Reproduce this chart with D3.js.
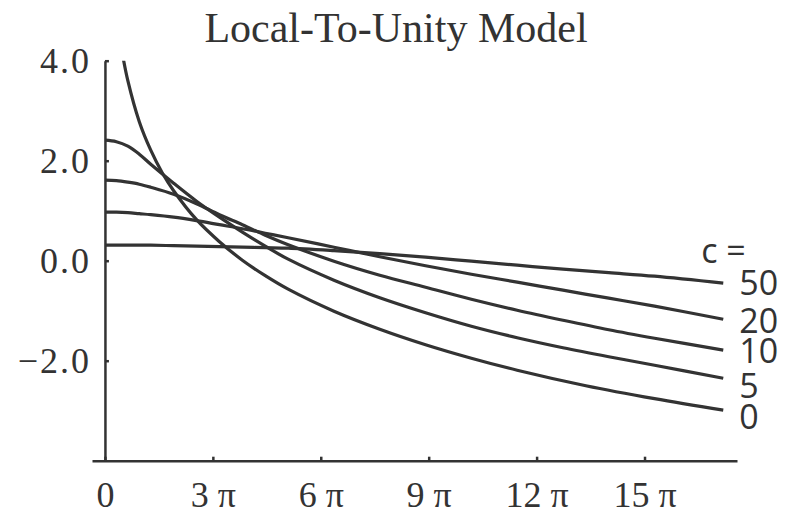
<!DOCTYPE html>
<html>
<head>
<meta charset="utf-8">
<script src="https://cdn.jsdelivr.net/npm/d3@7"></script>
<style>
  body { margin: 0; background: #fff; }
</style>
</head>
<body>
<div id="chart"></div>
<script>
(function(){
  'use strict';

  // curve samples (x in radians, shared grid for c > 0)
  var cNames = ['0', '5', '10', '20', '50'];
  var gridX = [0, 1, 2, 3, 4, 6, 8, 10, 12, 14, 16, 20, 24, 28, 32, 36, 40, 44, 48, 54];
  var c5  = [2.41, 2.38, 2.29, 2.13, 1.93, 1.55, 1.19, 0.87, 0.57, 0.29, 0.03, -0.39, -0.74, -1.04, -1.31, -1.54, -1.74, -1.92, -2.09, -2.35];
  var c10 = [1.61, 1.60, 1.57, 1.53, 1.47, 1.33, 1.14, 0.92, 0.72, 0.51, 0.32, -0.01, -0.29, -0.53, -0.77, -0.99, -1.19, -1.38, -1.55, -1.79];
  var c20 = [0.97, 0.97, 0.96, 0.94, 0.92, 0.87, 0.80, 0.72, 0.64, 0.55, 0.46, 0.27, 0.08, -0.10, -0.27, -0.43, -0.59, -0.75, -0.91, -1.17];
  var c50 = [0.31, 0.31, 0.31, 0.31, 0.31, 0.30, 0.29, 0.28, 0.27, 0.26, 0.25, 0.20, 0.14, 0.07, -0.01, -0.09, -0.17, -0.24, -0.31, -0.45];
  // c = 0 blows up at the origin, so it has its own x samples
  var c0X = [1.5, 2, 3, 4, 5, 6, 8, 10, 12, 14, 16, 20, 24, 28, 32, 36, 42, 48, 54];
  var c0  = [4.17, 3.6, 2.78, 2.21, 1.76, 1.40, 0.82, 0.38, 0.01, -0.30, -0.57, -1.01, -1.37, -1.68, -1.95, -2.19, -2.50, -2.76, -2.99];

  var xTicks = [0, 3 * Math.PI, 6 * Math.PI, 9 * Math.PI, 12 * Math.PI, 15 * Math.PI];
  var xTickLabels = ['0', '3 \u03c0', '6 \u03c0', '9 \u03c0', '12 \u03c0', '15 \u03c0'];
  var yTicks = [4, 2, 0, -2];
  var yTickLabels = ['4.0', '2.0', '0.0', '\u22122.0'];

  var w = 787, h = 516,
      ink = '#333';

  var series = [
    {c: cNames[0], xs: c0X, ys: c0, dy: 19},
    {c: cNames[1], xs: gridX, ys: c5, dy: 20},
    {c: cNames[2], xs: gridX, ys: c10, dy: 13},
    {c: cNames[3], xs: gridX, ys: c20, dy: 14},
    {c: cNames[4], xs: gridX, ys: c50, dy: 12}
  ];

  var svg = d3.select('#chart').append('svg')
    .attr('width', w)
    .attr('height', h);

  var x = d3.scaleLinear()
      .domain([-1.13, 55.2])
      .range([92, 737]),
    y = d3.scaleLinear()
      .domain([-4, 4])
      .range([460.7, 60.7]);

  svg.append('text')
    .attr('x', 396)
    .attr('y', 42)
    .attr('text-anchor', 'middle')
    .style('font-family', '"Liberation Serif", "Times New Roman", serif')
    .style('font-size', '42px')
    .style('fill', ink)
    .text('Local-To-Unity Model');

  svg.append('clipPath')
    .attr('id', 'plotclip')
    .append('rect')
    .attr('x', x(0))
    .attr('y', y(4))
    .attr('width', x(55.2) - x(0))
    .attr('height', y(-4) - y(4));

  var line = d3.line()
    .x(function(d) { return x(d[0]); })
    .y(function(d) { return y(d[1]); })
    .curve(d3.curveCatmullRom.alpha(0.5));

  svg.append('g')
    .attr('clip-path', 'url(#plotclip)')
    .selectAll('path')
    .data(series)
    .enter()
    .append('path')
    .attr('d', function(d) {
      return line(d3.zip(d.xs, d.ys));
    })
    .style('fill', 'none')
    .style('stroke', ink)
    .style('stroke-width', 3.2);

  var xAxis = d3.axisBottom(x)
      .tickValues(xTicks)
      .tickFormat(function(d, i) { return xTickLabels[i]; })
      .tickSizeInner(-4)
      .tickSizeOuter(0)
      .tickPadding(21),
    yAxis = d3.axisLeft(y)
      .tickValues(yTicks)
      .tickFormat(function(d, i) { return yTickLabels[i]; })
      .tickSizeInner(-4)
      .tickSizeOuter(0)
      .tickPadding(14);

  var gx = svg.append('g')
    .attr('transform', 'translate(0,' + y(-4) + ')')
    .call(xAxis);

  var gy = svg.append('g')
    .attr('transform', 'translate(' + x(0) + ',0)')
    .call(yAxis);

  [gx, gy].forEach(function(g) {
    g.attr('font-family', '"Liberation Serif", "Times New Roman", serif')
      .attr('font-size', 36);
    g.select('.domain').style('stroke', ink).style('stroke-width', 2.5);
    g.selectAll('.tick line').style('stroke', ink).style('stroke-width', 2.5);
    g.selectAll('.tick text').style('fill', ink);
  });
  gy.selectAll('.tick text')
    .attr('dy', '0.34em')
    .style('letter-spacing', '2px');

  // curve labels at the right end
  var lbl = svg.append('g')
    .style('font-family', '"Open Sans", "Noto Sans", sans-serif')
    .style('font-size', '34px')
    .style('fill', ink);

  lbl.selectAll('text')
    .data(series)
    .enter()
    .append('text')
    .attr('x', function(d) { return x(d.xs[d.xs.length - 1]) + 16; })
    .attr('y', function(d) { return y(d.ys[d.ys.length - 1]) + d.dy; })
    .text(function(d) { return d.c; });

  var top = series[series.length - 1];
  lbl.append('text')
    .attr('x', x(top.xs[top.xs.length - 1]) - 22)
    .attr('y', y(top.ys[top.ys.length - 1]) - 20)
    .text('c =');

}());
</script>
</body>
</html>
